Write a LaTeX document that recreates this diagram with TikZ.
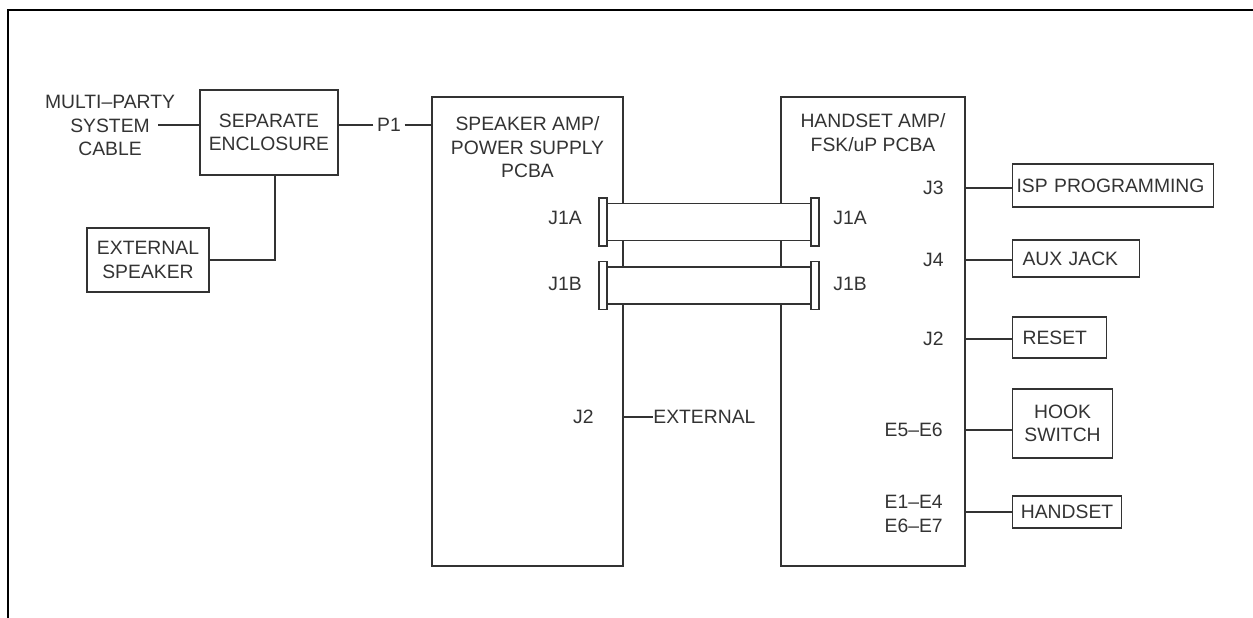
\documentclass[tikz,border=0pt]{standalone}
\usepackage{fontspec}
\setmainfont{Liberation Sans}
\usepackage{tikz}
\tikzset{>=latex}
\usetikzlibrary{positioning}
\usepackage{xcolor}
\colorlet{inkcol}{black!80}
\tikzstyle{wire}=[line width=0.6,inkcol]
\tikzstyle{box}=[draw=inkcol,line width=0.6,inner sep=0,align=center,text=inkcol,font=\fontsize{11}{13.3}\selectfont]
\tikzstyle{port}=[box,anchor=west,align=left,inner xsep=0.2cm]
\tikzstyle{plug}=[box,fill=white,minimum width=0.16cm,minimum height=0.96cm]
\tikzstyle{lbl}=[inner sep=0,align=center,text=inkcol,font=\fontsize{11}{13.3}\selectfont]

\begin{document}
\begin{tikzpicture}
  \useasboundingbox (0,0) rectangle (25.06,12.36);
  \coordinate (CA1) at (12.06,7.92); % J1A CABLE LEFT
  \coordinate (CA2) at (16.30,7.92); % J1A CABLE RIGHT
  \coordinate (CB1) at (12.06,6.65); % J1B CABLE LEFT
  \coordinate (CB2) at (16.30,6.65); % J1B CABLE RIGHT
  \coordinate (MP) at (3.16,9.86);   % MULTI-PARTY LINE END

  % FRAME
  \draw[line width=1.2] (0.16,0) -- (0.16,12.16) -- (25.06,12.16);

  % BOARDS
  \node[box,minimum width=3.82cm,minimum height=9.38cm] (spk) at (10.55,5.73) {};
  \node[box,minimum width=3.68cm,minimum height=9.38cm] (hs) at (17.46,5.73) {};
  \node[lbl,below=0.4cm of spk.north] (spkt) {SPEAKER AMP/\\POWER SUPPLY\\PCBA};
  \node[lbl,below=0.34cm of hs.north] (hst) {HANDSET AMP/\\FSK/uP PCBA};

  % RIBBON CABLES
  \draw[wire,fill=white] ([yshift=0.37cm]CA1) rectangle ([yshift=-0.37cm]CA2);
  \draw[wire,fill=white] ([yshift=0.37cm]CB1) rectangle ([yshift=-0.37cm]CB2);
  \node[plug] (pa1) at (CA1) {};
  \node[plug] (pa2) at (CA2) {};
  \node[plug] (pb1) at (CB1) {};
  \node[plug] (pb2) at (CB2) {};

  % CONNECTOR LABELS
  \node[lbl,anchor=east] (ja1) at (11.64,8.00) {J1A};
  \node[lbl,anchor=east] (jb1) at (11.64,6.68) {J1B};
  \node[lbl,anchor=east] (jx) at (11.88,4.02) {J2};
  \node[lbl,anchor=west] (ja2) at (16.66,8.00) {J1A};
  \node[lbl,anchor=west] (jb2) at (16.66,6.68) {J1B};
  \node[lbl,anchor=east] (j3) at (18.88,8.60) {J3};
  \node[lbl,anchor=east] (j4) at (18.88,7.16) {J4};
  \node[lbl,anchor=east] (j2) at (18.88,5.58) {J2};
  \node[lbl,anchor=east] (e56) at (18.86,3.76) {E5--E6};
  \node[lbl,anchor=east] (e17) at (18.86,2.08) {E1--E4\\E6--E7};
  \node[lbl,anchor=west] (extn) at (13.06,4.02) {EXTERNAL};

  % LEFT SIDE
  \node[box,minimum width=2.76cm,minimum height=1.70cm] (se) at (5.38,9.71) {SEPARATE\\ENCLOSURE};
  \node[box,minimum width=2.44cm,minimum height=1.28cm] (exspk) at (2.96,7.16) {EXTERNAL\\SPEAKER};
  \node[lbl] (cable) at (2.2,9.85) {MULTI--PARTY\\SYSTEM\\CABLE};
  \node[lbl,inner xsep=2pt] (p1) at (7.78,9.86) {P1};

  % RIGHT SIDE
  \node[port,text width=3.86cm,inner xsep=0.08cm,minimum height=0.86cm] (isp) at (20.24,8.65) {ISP PROGRAMMING};
  \node[port,text width=2.14cm,minimum height=0.74cm] (aux) at (20.24,7.19) {AUX JACK};
  \node[port,text width=1.48cm,minimum height=0.82cm] (rst) at (20.24,5.61) {RESET};
  \node[port,align=center,text width=1.6cm,minimum height=1.38cm] (hook) at (20.24,3.89) {HOOK\\SWITCH};
  \node[port,align=center,text width=1.98cm,inner xsep=0.1cm,minimum height=0.64cm] (hset) at (20.24,2.12) {HANDSET};

  % WIRES
  \draw[wire] (MP) -- (MP -| se.west);
  \draw[wire] (p1.west) -- (p1.west -| se.east);
  \draw[wire] (p1.east) -- (p1.east -| spk.west);
  \draw[wire] ([xshift=0.12cm]se.south) |- (exspk.east);
  \draw[wire] (spk.east |- extn) -- (extn.west);
  \draw[wire] (hs.east |- j3) -- (j3 -| isp.west);
  \draw[wire] (hs.east |- j4) -- (j4 -| aux.west);
  \draw[wire] (hs.east |- j2) -- (j2 -| rst.west);
  \draw[wire] (hs.east |- e56) -- (e56 -| hook.west);
  \draw[wire] (hs.east |- hset) -- (hset.west);
\end{tikzpicture}
\end{document}
